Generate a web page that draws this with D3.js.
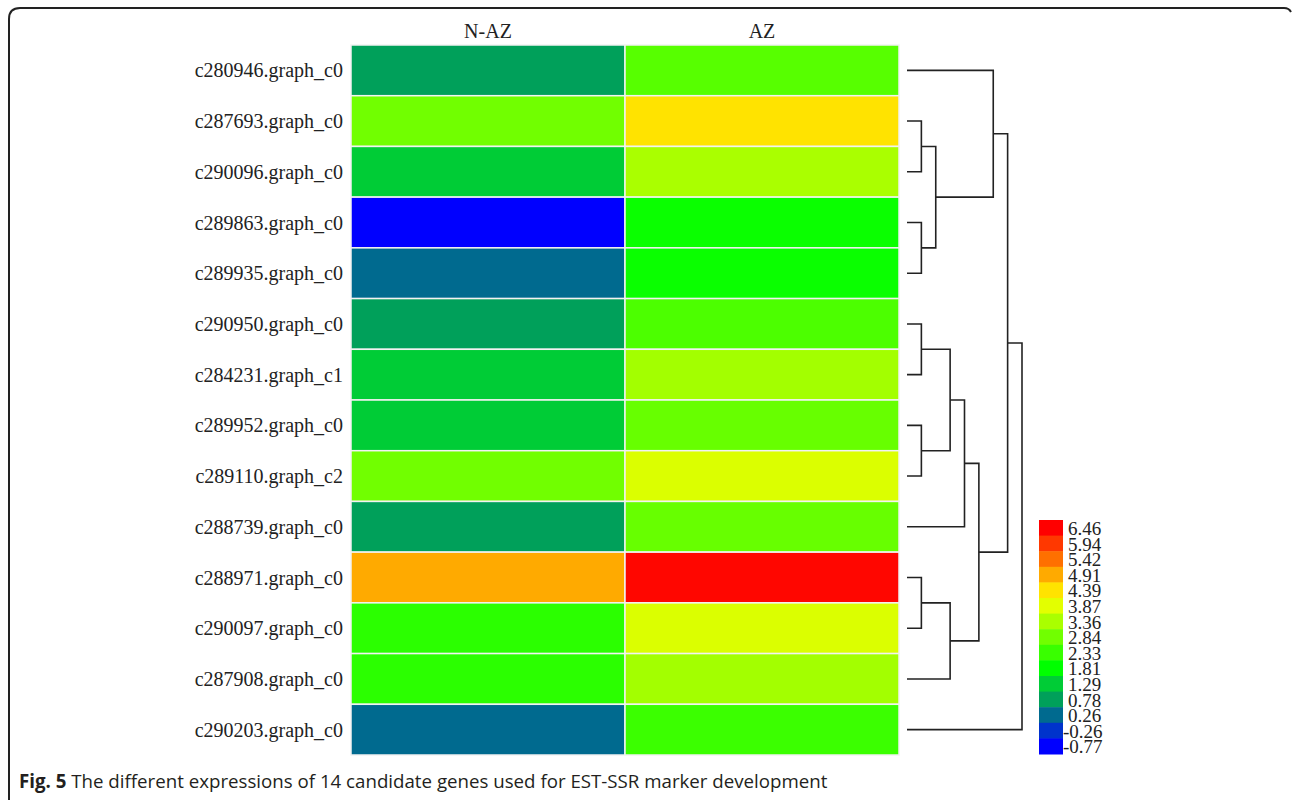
<!DOCTYPE html>
<html>
<head>
<meta charset="utf-8">
<script src="https://cdn.jsdelivr.net/npm/d3@7"></script>
<style>
  body { margin: 0; background: #fff; }
</style>
</head>
<body>
<div id="chart"></div>
<script>
// genes (rows), top to bottom
var genes = ["c280946.graph_c0", "c287693.graph_c0", "c290096.graph_c0", "c289863.graph_c0",
             "c289935.graph_c0", "c290950.graph_c0", "c284231.graph_c1", "c289952.graph_c0",
             "c289110.graph_c2", "c288739.graph_c0", "c288971.graph_c0", "c290097.graph_c0",
             "c287908.graph_c0", "c290203.graph_c0"];
var samples = ["N-AZ", "AZ"];

// expression values
var nazValues = [0.78, 2.84, 1.29, -0.77, 0.26, 0.78, 1.29, 1.29, 2.84, 0.78, 4.91, 2.2, 2.2, 0.26];
var azValues  = [2.6, 4.39, 3.36, 1.9, 1.9, 2.5, 3.3, 2.75, 3.8, 2.75, 6.4, 3.8, 3.3, 2.35];

var legendTicks = ["6.46", "5.94", "5.42", "4.91", "4.39", "3.87", "3.36", "2.84",
                   "2.33", "1.81", "1.29", "0.78", "0.26", "-0.26", "-0.77"];
var legendColors = ["#ff0000", "#ff3800", "#ff7000", "#ffaa00", "#ffe300", "#e3ff00", "#aaff00", "#71ff00",
                    "#39ff00", "#00ff00", "#00cc36", "#00a05a", "#006a8f", "#0033cc", "#0000ff"];

// row clustering, hclust style: negative = leaf (1-based row), positive = earlier merge
var merges = [[-2, -3], [-4, -5], [1, 2], [-1, 3], [-6, -7], [-8, -9], [5, 6], [7, -10],
              [-11, -12], [9, -13], [8, 10], [4, 11], [12, -14]];
var mergeHeights = [1, 1, 2, 6, 1, 1, 3, 4, 1, 3, 5, 7, 8];

var W = 1292, H = 801;
var svg = d3.select("#chart").append("svg")
    .attr("width", W)
    .attr("height", H);

// frame (rounded top-left corner like the figure box)
svg.append("path")
    .attr("d", "M9,800 L9,19 Q9,8 20,8 L1284,8 Q1289,8 1291,12")
    .attr("fill", "none")
    .attr("stroke", "#222")
    .attr("stroke-width", 2);

var x = d3.scaleBand().domain(samples).range([351, 899]);
var y = d3.scaleBand().domain(genes).range([45, 755]);

var color = d3.scaleLinear()
    .domain(legendTicks.map(Number))
    .range(legendColors)
    .clamp(true);

var cells = [];
genes.forEach(function(g, i) {
    cells.push({gene: g, sample: "N-AZ", value: nazValues[i]});
    cells.push({gene: g, sample: "AZ", value: azValues[i]});
});

svg.selectAll("rect.cell")
    .data(cells)
    .enter()
    .append("rect")
    .attr("class", "cell")
    .attr("x", function(d) { return x(d.sample); })
    .attr("y", function(d) { return y(d.gene); })
    .attr("width", x.bandwidth())
    .attr("height", y.bandwidth())
    .attr("fill", function(d) { return color(d.value); })
    .attr("stroke", "#f2f2f2")
    .attr("stroke-width", 1.5);

// column labels
svg.selectAll("text.col")
    .data(samples)
    .enter()
    .append("text")
    .attr("class", "col")
    .attr("x", function(d) { return x(d) + x.bandwidth() / 2; })
    .attr("y", 38)
    .attr("text-anchor", "middle")
    .style("font-family", "'Liberation Serif', serif")
    .style("font-size", "20px")
    .attr("fill", "#222")
    .text(function(d) { return d; });

// row labels
svg.selectAll("text.row")
    .data(genes)
    .enter()
    .append("text")
    .attr("class", "row")
    .attr("x", 343)
    .attr("y", function(d) { return y(d) + y.bandwidth() / 2; })
    .attr("dy", "0.35em")
    .attr("text-anchor", "end")
    .style("font-family", "'Liberation Serif', serif")
    .style("font-size", "20px")
    .attr("fill", "#222")
    .text(function(d) { return d; });

// dendrogram
var h = d3.scaleLinear().domain([0, 8]).range([907, 1022]);
var nodes = [];
function pos(id) {
    if (id < 0) {
        var g = genes[-id - 1];
        return {x: h(0), y: y(g) + y.bandwidth() / 2};
    }
    return nodes[id - 1];
}
var links = [];
merges.forEach(function(m, i) {
    var a = pos(m[0]), b = pos(m[1]);
    var px = h(mergeHeights[i]);
    links.push("M" + a.x + "," + a.y + "H" + px + "V" + b.y + "H" + b.x);
    nodes.push({x: px, y: (a.y + b.y) / 2});
});

svg.selectAll("path.link")
    .data(links)
    .enter()
    .append("path")
    .attr("class", "link")
    .attr("d", function(d) { return d; })
    .attr("fill", "none")
    .attr("stroke", "#222")
    .attr("stroke-width", 1.6);

// legend
var ly = d3.scaleBand().domain(legendTicks).range([520, 754]);
svg.selectAll("rect.leg")
    .data(legendTicks)
    .enter()
    .append("rect")
    .attr("class", "leg")
    .attr("x", 1039)
    .attr("y", function(d) { return ly(d); })
    .attr("width", 24)
    .attr("height", ly.bandwidth() + 0.5)
    .attr("fill", function(d, i) { return legendColors[i]; });

svg.selectAll("text.leg")
    .data(legendTicks)
    .enter()
    .append("text")
    .attr("class", "leg")
    .attr("x", function(d) { return d.charAt(0) === "-" ? 1063 : 1068; })
    .attr("y", function(d) { return ly(d) + ly.bandwidth() / 2; })
    .attr("dy", "0.38em")
    .style("font-family", "'Liberation Serif', serif")
    .style("font-size", "19px")
    .attr("fill", "#222")
    .text(function(d) { return d; });

// caption
var cap = svg.append("text")
    .attr("x", 19)
    .attr("y", 788)
    .style("font-family", "'Open Sans', sans-serif")
    .style("font-size", "18.7px")
    .attr("fill", "#231f20");
cap.append("tspan").style("font-weight", "bold").text("Fig. 5");
cap.append("tspan").text(" The different expressions of 14 candidate genes used for EST-SSR marker development");
</script>
</body>
</html>
